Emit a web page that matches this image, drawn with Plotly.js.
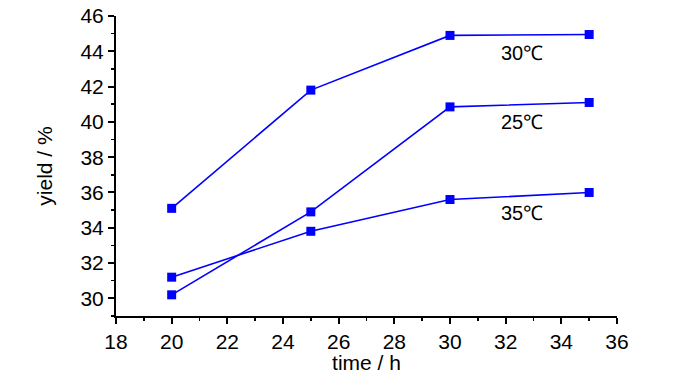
<!DOCTYPE html>
<html><head><meta charset="utf-8">
<script src="https://cdn.plot.ly/plotly-3.0.1.min.js"></script>
<style>html,body{margin:0;padding:0;background:#fff}#chart{width:700px;height:374px}</style>
</head><body><div id="chart"></div>
<script>
const time = [20, 25, 30, 35];
const yield30 = [35.1, 41.8, 44.9, 44.95];
const yield25 = [30.2, 34.9, 40.85, 41.1];
const yield35 = [31.2, 33.8, 35.6, 36.0];
const seriesNames = ['30℃', '25℃', '35℃'];
const labelX = [32.6, 32.6, 32.6];
const labelY = [43.9, 40.0, 34.85];

const FONT = '"Liberation Sans", Arial, sans-serif';
const series = [yield30, yield25, yield35];
const traces = series.map((ys, i) => ({
  x: time, y: ys, name: seriesNames[i], type: 'scatter', mode: 'lines+markers',
  line: {color: '#0000ff', width: 1.6},
  marker: {symbol: 'square', size: 9, color: '#0000ff'}
}));
const annotations = seriesNames.map((t, i) => ({
  x: labelX[i], y: labelY[i], xref: 'x', yref: 'y', text: t, showarrow: false,
  font: {family: FONT, size: 20, color: '#000'}
}));
const axisCommon = {
  showgrid: false, zeroline: false, showline: true, linecolor: '#000', linewidth: 2,
  ticks: 'outside', ticklen: 6, tickwidth: 2, tickcolor: '#000',
  tickfont: {family: FONT, size: 21, color: '#000'},
  minor: {ticks: 'outside', ticklen: 3, tickwidth: 1.5, tickcolor: '#000', dtick: 1}
};
const layout = {
  width: 700, height: 374,
  margin: {l: 116, r: 83, t: 16, b: 58},
  paper_bgcolor: '#fff', plot_bgcolor: '#fff',
  showlegend: false,
  xaxis: Object.assign({}, axisCommon, {range: [18, 36], dtick: 2, tick0: 18,
    title: {text: 'time / h', font: {family: FONT, size: 21, color: '#000'}, standoff: 0}}),
  yaxis: Object.assign({}, axisCommon, {range: [29, 46], dtick: 2, tick0: 30,
    title: {text: 'yield / %', font: {family: FONT, size: 21, color: '#000'}, standoff: 22}}),
  annotations: annotations
};
Plotly.newPlot('chart', traces, layout, {displayModeBar: false, staticPlot: true});
</script></body></html>
